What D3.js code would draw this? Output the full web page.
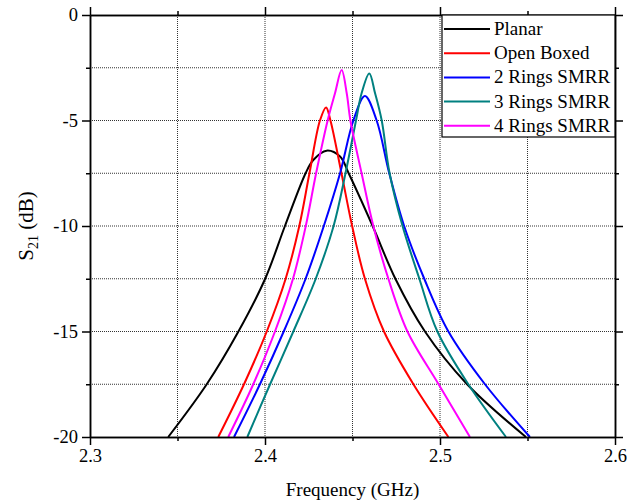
<!DOCTYPE html>
<html>
<head>
<meta charset="utf-8">
<script src="https://cdn.jsdelivr.net/npm/d3@7"></script>
<style>
  body { margin: 0; background: #fff; }
  text { font-family: "Liberation Serif", "Times New Roman", serif; }
</style>
</head>
<body>
<div id="chart"></div>
<script>
// values (GHz, dB)
const seriesNames = ["Planar", "Open Boxed", "2 Rings SMRR", "3 Rings SMRR", "4 Rings SMRR"];
const seriesColors = ["#000000", "#ff0000", "#0000ff", "#008080", "#ff00ff"];

const planarF  = [2.3447, 2.3667, 2.3848, 2.4001, 2.4114, 2.4232, 2.4276, 2.4352, 2.4429, 2.4478, 2.4615, 2.4745, 2.4914, 2.5155, 2.5491];
const planarDb = [-20, -17.5, -15, -12.5, -10, -7.5, -6.87, -6.43, -6.71, -7.5, -10, -12.5, -15, -17.5, -20];

const openF  = [2.3733, 2.3880, 2.4010, 2.4118, 2.4196, 2.4254, 2.4314, 2.4349, 2.4374, 2.4437, 2.4498, 2.4571, 2.4680, 2.4848, 2.5048];
const openDb = [-20, -17.5, -15, -12.5, -10, -7.5, -5, -4.38, -5, -7.5, -10, -12.5, -15, -17.5, -20];

const ring2F  = [2.3823, 2.3971, 2.4107, 2.4232, 2.4336, 2.4429, 2.4505, 2.4571, 2.4638, 2.4710, 2.4795, 2.4910, 2.5048, 2.5257, 2.5514];
const ring2Db = [-20, -17.5, -15, -12.5, -10, -7.5, -5, -3.84, -5, -7.5, -10, -12.5, -15, -17.5, -20];

const ring3F  = [2.3899, 2.4029, 2.4162, 2.4290, 2.4392, 2.4460, 2.4520, 2.4552, 2.4596, 2.4629, 2.4667, 2.4712, 2.4786, 2.4882, 2.4985, 2.5162, 2.5377];
const ring3Db = [-20, -17.5, -15, -12.5, -10, -7.5, -5, -3.71, -2.77, -3.71, -5, -7.5, -10, -12.5, -15, -17.5, -20];

const ring4F  = [2.3790, 2.3933, 2.4057, 2.4160, 2.4233, 2.4292, 2.4358, 2.4400, 2.4438, 2.4467, 2.4488, 2.4552, 2.4619, 2.4705, 2.4814, 2.4992, 2.5171];
const ring4Db = [-20, -17.5, -15, -12.5, -10, -7.5, -5, -3.71, -2.61, -3.71, -5, -7.5, -10, -12.5, -15, -17.5, -20];

const xMajor = [2.3, 2.4, 2.5, 2.6];
const xMinor = [2.35, 2.45, 2.55];
const yMajor = [0, -5, -10, -15, -20];
const yMinor = [-2.5, -7.5, -12.5, -17.5];
const xGrid = [2.35, 2.4, 2.45, 2.5, 2.55];
const yGrid = [-2.5, -5, -7.5, -10, -12.5, -15, -17.5];

const width = 627, height = 503;
const margin = { top: 15, right: 12, bottom: 66, left: 90 };

const svg = d3.select("#chart").append("svg")
  .attr("width", width)
  .attr("height", height);

const x = d3.scaleLinear().domain([2.3, 2.6]).range([margin.left, width - margin.right]);
const y = d3.scaleLinear().domain([-20, 0]).range([height - margin.bottom, margin.top]);

// dotted grid
svg.append("g").selectAll("line").data(xGrid).join("line")
  .attr("x1", d => x(d)).attr("x2", d => x(d))
  .attr("y1", y(0)).attr("y2", y(-20))
  .attr("stroke", "#333").attr("stroke-width", 1).attr("stroke-dasharray", "1,1");
svg.append("g").selectAll("line").data(yGrid).join("line")
  .attr("x1", x(2.3)).attr("x2", x(2.6))
  .attr("y1", d => y(d)).attr("y2", d => y(d))
  .attr("stroke", "#333").attr("stroke-width", 1).attr("stroke-dasharray", "1,1");

// curves
const series = [
  { f: planarF, db: planarDb },
  { f: openF, db: openDb },
  { f: ring2F, db: ring2Db },
  { f: ring3F, db: ring3Db },
  { f: ring4F, db: ring4Db }
];

const line = d3.line()
  .x(d => x(d[0]))
  .y(d => y(d[1]))
  .curve(d3.curveCatmullRom.alpha(0.5));

series.forEach((s, i) => {
  svg.append("path")
    .datum(s.f.map((f, j) => [f, s.db[j]]))
    .attr("fill", "none")
    .attr("stroke", seriesColors[i])
    .attr("stroke-width", 2)
    .attr("d", line);
});

// axes, major + minor, mirrored on top and right
function styleAxis(g) {
  g.attr("font-family", null);
  g.selectAll("path, line").attr("stroke", "#000").attr("stroke-width", 1.5);
  g.selectAll("text").attr("font-size", 18.5).attr("fill", "#000");
}

svg.append("g").attr("transform", `translate(0,${y(-20)})`)
  .call(d3.axisBottom(x).tickValues(xMajor).tickSize(8).tickSizeOuter(0).tickPadding(4).tickFormat(d3.format(".1f")))
  .call(styleAxis);
svg.append("g").attr("transform", `translate(0,${y(-20)})`)
  .call(d3.axisBottom(x).tickValues(xMinor).tickSize(4).tickSizeOuter(0).tickFormat(""))
  .call(styleAxis);
svg.append("g").attr("transform", `translate(${x(2.3)},0)`)
  .call(d3.axisLeft(y).tickValues(yMajor).tickSize(8).tickSizeOuter(0).tickPadding(4).tickFormat(d => String(d)))
  .call(styleAxis);
svg.append("g").attr("transform", `translate(${x(2.3)},0)`)
  .call(d3.axisLeft(y).tickValues(yMinor).tickSize(4).tickSizeOuter(0).tickFormat(""))
  .call(styleAxis);
svg.append("g").attr("transform", `translate(0,${y(0)})`)
  .call(d3.axisTop(x).tickValues(xMajor).tickSize(8).tickSizeOuter(0).tickFormat(""))
  .call(styleAxis);
svg.append("g").attr("transform", `translate(0,${y(0)})`)
  .call(d3.axisTop(x).tickValues(xMinor).tickSize(4).tickSizeOuter(0).tickFormat(""))
  .call(styleAxis);
svg.append("g").attr("transform", `translate(${x(2.6)},0)`)
  .call(d3.axisRight(y).tickValues(yMajor).tickSize(8).tickSizeOuter(0).tickFormat(""))
  .call(styleAxis);
svg.append("g").attr("transform", `translate(${x(2.6)},0)`)
  .call(d3.axisRight(y).tickValues(yMinor).tickSize(4).tickSizeOuter(0).tickFormat(""))
  .call(styleAxis);

// axis titles
svg.append("text")
  .attr("x", (x(2.3) + x(2.6)) / 2)
  .attr("y", 496)
  .attr("text-anchor", "middle")
  .attr("font-size", 19)
  .text("Frequency (GHz)");

const yTitle = svg.append("text")
  .attr("transform", `translate(33,${(y(0) + y(-20)) / 2}) rotate(-90)`)
  .attr("text-anchor", "middle")
  .attr("font-size", 21);
yTitle.append("tspan").text("S");
yTitle.append("tspan").attr("font-size", 14).attr("dy", 5).text("21");
yTitle.append("tspan").attr("dy", -5).text(" (dB)");

// legend
const legend = svg.append("g").attr("transform", `translate(${x(2.6) - 173},${y(0)})`);
legend.append("rect")
  .attr("width", 173).attr("height", 122)
  .attr("fill", "#fff").attr("stroke", "#000").attr("stroke-width", 1.2);
seriesNames.forEach((name, i) => {
  const yy = 14 + i * 24.2;
  legend.append("line")
    .attr("x1", 2).attr("x2", 48)
    .attr("y1", yy).attr("y2", yy)
    .attr("stroke", seriesColors[i]).attr("stroke-width", 2);
  legend.append("text")
    .attr("x", 52).attr("y", yy + 6)
    .attr("font-size", 19)
    .text(name);
});
</script>
</body>
</html>
